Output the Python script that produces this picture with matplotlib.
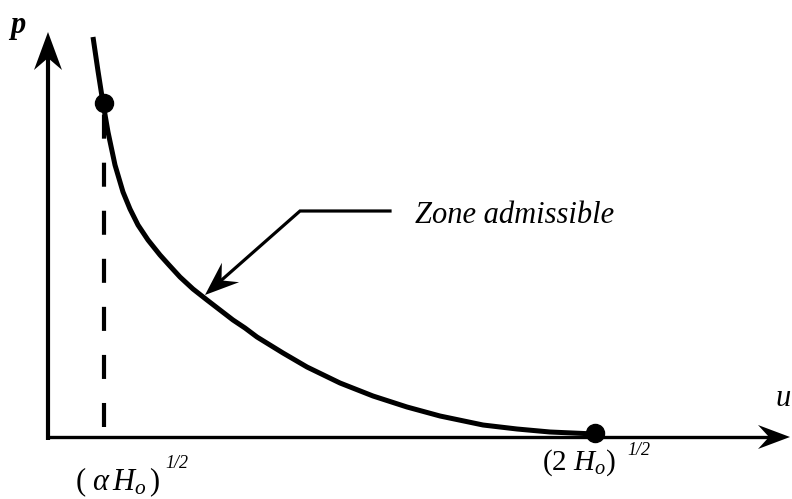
import numpy as np
import matplotlib.pyplot as plt
from matplotlib.patches import Polygon

plt.rcParams['font.family'] = ['Liberation Serif', 'DejaVu Serif']
plt.rcParams['mathtext.fontset'] = 'custom'
plt.rcParams['mathtext.rm'] = 'Liberation Serif'
plt.rcParams['mathtext.it'] = 'Liberation Serif:italic'
plt.rcParams['lines.scale_dashes'] = False

# boundary curve p(u) of the admissible zone
u_curve = [45, 50, 55, 60, 67, 75, 82, 90, 100, 112, 121, 132, 145, 159, 172,
           185, 197, 209, 222, 235, 259, 292, 325, 359, 392, 435, 469, 502, 547]
p_curve = [400, 366, 334, 305, 272, 245, 228, 212, 197, 182, 172, 160, 148, 137,
           127, 117, 109, 100, 92, 84, 70, 54, 41, 30, 21, 12, 8, 5, 3]

u_alpha, p_alpha = 56, 334   # (alpha H0)^1/2
u_two, p_two = 547, 4        # (2 H0)^1/2

u_max, p_max = 742, 405

fig = plt.figure(figsize=(7.92, 4.99), dpi=100)
ax = fig.add_axes([0, 0, 1, 1])
ax.set_xlim(-48, 744)
ax.set_ylim(-62, 437)
ax.axis('off')


def stealth(tip, direction, length, half_w, notch):
    d = np.array(direction, float)
    d /= np.hypot(*d)
    n = np.array([-d[1], d[0]])
    tip = np.array(tip, float)
    base = tip - d * length
    pts = [tip, base + n * half_w, tip - d * notch, base - n * half_w]
    ax.add_patch(Polygon(pts, closed=True, color='black', lw=0, zorder=5))


# axes
ax.plot([0, 0], [-3, p_max - 20], color='black', lw=3.0, solid_capstyle='butt')
ax.plot([0, u_max - 15], [0, 0], color='black', lw=2.4, solid_capstyle='butt')
stealth((0, p_max), (0, 1), 38, 14, 26)
stealth((u_max, 0), (1, 0), 32, 12, 21)

# curve, dashed guide and the two marked points
ax.plot(u_curve, p_curve, color='black', lw=3.6, solid_capstyle='butt',
        solid_joinstyle='round')
ax.plot([u_alpha, u_alpha], [10, p_alpha - 10], color='black', lw=3.0,
        dashes=(17.3, 17.3), dash_capstyle='butt')
ax.plot([u_alpha, u_two], [p_alpha, p_two], 'o', color='black', ms=13, ls='none')

# annotation arrow
ax.plot([342, 252, 168], [226, 226, 152], color='black', lw=2.3,
        solid_joinstyle='miter')
stealth((157, 142), (-95, -84), 34, 13, 22)
ax.text(367, 214, 'Zone admissible', fontsize=22, style='italic',
        va='baseline', ha='left')

# axis labels
ax.text(-30, 412, 'p', fontsize=22, style='italic', fontweight='bold',
        va='center', ha='center')
ax.text(735, 38, 'u', fontsize=22, style='italic', va='center', ha='center')

ax.text(27, -53, r'$(\ \alpha\,H_o\,)$', fontsize=22, ha='left', va='baseline')
ax.text(117, -31, '1/2', fontsize=13, style='italic', ha='left', va='baseline')
ax.text(494, -33, r'$(2\ H_o)$', fontsize=21, ha='left', va='baseline')
ax.text(579, -18, '1/2', fontsize=13, style='italic', ha='left', va='baseline')

fig.savefig('out.png', dpi=100)
